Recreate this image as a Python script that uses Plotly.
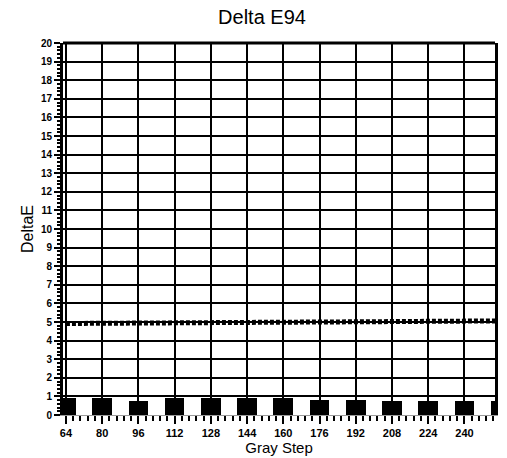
import plotly.graph_objects as go

# Data
bar_steps = [64, 80, 96, 112, 128, 144, 160, 176, 192, 208, 224, 240, 256]
bar_delta_e = [0.92, 0.92, 0.75, 0.92, 0.92, 0.92, 0.92, 0.8, 0.8, 0.75, 0.75, 0.75, 0.75]

line_steps = [64, 80, 96, 112, 128, 144, 160, 176, 192, 208, 224, 240, 256]
line_delta_e = [4.92, 4.94, 4.95, 4.96, 4.97, 4.98, 4.99, 5.0, 5.01, 5.02, 5.04, 5.05, 5.06]

x_ticks = [64, 80, 96, 112, 128, 144, 160, 176, 192, 208, 224, 240]
y_ticks = list(range(0, 21))

FONT = "Liberation Sans, Arial, sans-serif"

W, H = 500, 458

fig = go.Figure()
fig.add_trace(go.Bar(
    x=bar_steps, y=bar_delta_e, width=8.7,
    marker=dict(color="black", line=dict(width=0)),
    showlegend=False,
))
fig.add_trace(go.Scatter(
    x=line_steps, y=line_delta_e, mode="lines",
    line=dict(color="black", width=5, dash="4px,2px"),
    showlegend=False,
))

fig.update_layout(
    width=W, height=H,
    margin=dict(l=63, r=2, t=43, b=43),
    paper_bgcolor="white", plot_bgcolor="white",
    font=dict(family=FONT, color="black"),
    title=dict(text="Delta E94", x=262 / W, xanchor="center",
               y=1 - 17 / H, yanchor="middle", yref="container",
               font=dict(size=20, family=FONT, color="black")),
    bargap=0,
    shapes=[dict(type="line", xref="paper", yref="paper", x0=0, x1=1, y0=1, y1=1,
                 line=dict(color="black", width=3))],
)
fig.update_xaxes(
    range=[62.7, 253.5],
    tickvals=x_ticks, ticktext=[str(v) for v in x_ticks],
    tickfont=dict(size=11, family=FONT, color="black", weight="bold"),
    ticks="outside", ticklen=8, tickwidth=2, tickcolor="black",
    minor=dict(dtick=3.2, tick0=64, ticks="outside", ticklen=5, tickwidth=2,
               tickcolor="black", showgrid=False),
    showgrid=True, gridcolor="black", gridwidth=2,
    showline=True, linecolor="#999999", linewidth=1,
    zeroline=False,
    title=dict(text="Gray Step", standoff=4, font=dict(size=15, family=FONT, color="black")),
)
fig.update_yaxes(
    range=[0, 20],
    tickvals=y_ticks, ticktext=[str(v) for v in y_ticks],
    tickfont=dict(size=10, family=FONT, color="black", weight="bold"),
    ticks="outside", ticklen=6, tickwidth=2, tickcolor="black",
    minor=dict(dtick=0.2, ticks="outside", ticklen=3, tickwidth=1.5,
               tickcolor="black", showgrid=False),
    showgrid=True, gridcolor="black", gridwidth=2,
    showline=True, mirror=True, linecolor="black", linewidth=3,
    zeroline=False,
    title=dict(text="DeltaE", standoff=4, font=dict(size=16, family=FONT, color="black")),
)

fig.write_html("out.html",
               config={"displayModeBar": False},
               post_script="document.body.style.margin='0';document.body.style.overflow='hidden';")
